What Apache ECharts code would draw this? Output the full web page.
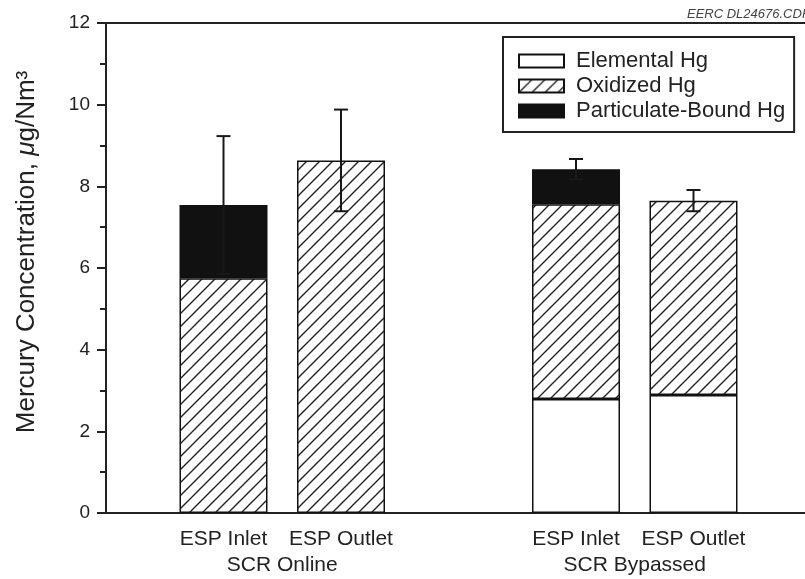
<!DOCTYPE html>
<html>
<head>
<meta charset="utf-8">
<script src="https://cdn.jsdelivr.net/npm/echarts@6/dist/echarts.min.js"></script>
<style>
html,body{margin:0;padding:0;background:#fff;}
#chart{width:805px;height:579px;}
</style>
</head>
<body>
<div id="chart"></div>
<script>
// ---- data ----
const categories = ['', 'ESP Inlet', 'ESP Outlet', '', 'ESP Inlet', 'ESP Outlet', ''];
const groups = ['SCR Online', 'SCR Bypassed'];
const groupPositions = [1.5, 4.5];
const seriesNames = ['Elemental Hg', 'Oxidized Hg', 'Particulate-Bound Hg'];
const elemental   = ['-', '-',  '-',  '-', 2.79, 2.89, '-'];
const oxidized    = ['-', 5.75, 8.63, '-', 4.77, 4.76, '-'];
const particulate = ['-', 1.79, '-',  '-', 0.86, '-',  '-'];
const errorLow    = ['-', 5.85, 7.39, '-', 8.17, 7.39, '-'];
const errorHigh   = ['-', 9.23, 9.88, '-', 8.67, 7.91, '-'];
const yMin = 0, yMax = 12, yInterval = 2;
const yAxisTitle = 'Mercury Concentration, {i|μ}g/Nm³';
const cornerNote = 'EERC DL24676.CDR';

// ---- hatch pattern ----
function makeHatch(size, lw, color) {
  const c = document.createElement('canvas');
  c.width = size; c.height = size;
  const ctx = c.getContext('2d');
  ctx.fillStyle = '#fff';
  ctx.fillRect(0, 0, size, size);
  ctx.strokeStyle = color;
  ctx.lineWidth = lw;
  ctx.beginPath();
  ctx.moveTo(-2, size + 2); ctx.lineTo(size + 2, -2);
  ctx.moveTo(-2, 2); ctx.lineTo(2, -2);
  ctx.moveTo(size - 2, size + 2); ctx.lineTo(size + 2, size - 2);
  ctx.stroke();
  return c;
}
const hatch = makeHatch(13, 1.4, '#222');

const FONT = '"Liberation Sans", Arial, sans-serif';
const chart = echarts.init(document.getElementById('chart'), null, {renderer: 'canvas'});

const errData = [];
for (let i = 0; i < categories.length; i++) {
  if (errorLow[i] !== '-') errData.push([i, errorLow[i], errorHigh[i]]);
}

const barCommon = {
  type: 'bar', stack: 'total', barWidth: 88, xAxisIndex: 0,
  emphasis: {disabled: true}
};

chart.setOption({
  animation: false,
  backgroundColor: '#fff',
  textStyle: {fontFamily: FONT},
  grid: {left: 106, top: 23, bottom: 66, width: 705, show: true, borderColor: '#222', borderWidth: 2,
         backgroundColor: 'transparent', containLabel: false, outerBoundsMode: 'none'},
  legend: {
    orient: 'vertical', left: 503, top: 37,
    padding: [13, 9, 10, 15],
    borderColor: '#222', borderWidth: 2,
    itemWidth: 45, itemHeight: 13, itemGap: 3,
    icon: 'rect',
    textStyle: {fontSize: 22, color: '#222', fontFamily: FONT, lineHeight: 21, padding: [0, 0, 0, 7]},
    data: seriesNames
  },
  xAxis: [{
    type: 'category', data: categories, boundaryGap: false,
    axisLine: {show: true, lineStyle: {color: '#222', width: 2}},
    axisTick: {show: false},
    axisLabel: {interval: 0, fontSize: 21, color: '#222', margin: 16, fontFamily: FONT},
    splitLine: {show: false}
  }, {
    type: 'value', min: 0, max: categories.length - 1, interval: 1.5,
    position: 'bottom',
    axisLine: {show: false}, axisTick: {show: false}, splitLine: {show: false},
    axisLabel: {
      fontSize: 21, color: '#222', margin: 42, fontFamily: FONT, showMinLabel: true, showMaxLabel: true,
      formatter: function (v) {
        const k = groupPositions.indexOf(v);
        return k >= 0 ? groups[k] : '';
      }
    }
  }],
  yAxis: {
    type: 'value', min: yMin, max: yMax, interval: yInterval,
    axisLine: {show: true, lineStyle: {color: '#222', width: 2}},
    axisTick: {show: true, length: 9, lineStyle: {color: '#222', width: 2}},
    minorTick: {show: true, splitNumber: 2, length: 6, lineStyle: {color: '#222', width: 2}},
    axisLabel: {fontSize: 19, color: '#222', margin: 16, fontFamily: FONT},
    splitLine: {show: false}
  },
  series: [
    Object.assign({}, barCommon, {
      name: seriesNames[0], data: elemental,
      itemStyle: {color: '#fff', borderColor: '#111', borderWidth: 1.5}
    }),
    Object.assign({}, barCommon, {
      name: seriesNames[1], data: oxidized,
      itemStyle: {color: {image: hatch, repeat: 'repeat'}, borderColor: '#111', borderWidth: 1.5}
    }),
    Object.assign({}, barCommon, {
      name: seriesNames[2], data: particulate,
      itemStyle: {color: '#111', borderColor: '#111', borderWidth: 1.5}
    }),
    {
      type: 'custom', name: 'error', xAxisIndex: 0, data: errData, z: 10,
      encode: {x: 0, y: [1, 2]},
      renderItem: function (params, api) {
        const x = api.value(0);
        const lo = api.coord([x, api.value(1)]);
        const hi = api.coord([x, api.value(2)]);
        const cap = 7;
        const st = {stroke: '#181818', lineWidth: 2};
        return {
          type: 'group',
          children: [
            {type: 'line', shape: {x1: lo[0], y1: lo[1], x2: hi[0], y2: hi[1]}, style: st},
            {type: 'line', shape: {x1: hi[0] - cap, y1: hi[1], x2: hi[0] + cap, y2: hi[1]}, style: st},
            {type: 'line', shape: {x1: lo[0] - cap, y1: lo[1], x2: lo[0] + cap, y2: lo[1]}, style: st}
          ]
        };
      }
    }
  ],
  graphic: [
    {
      type: 'text', x: 27, y: 252, rotation: Math.PI / 2,
      style: {
        text: yAxisTitle, fontSize: 26, fontFamily: FONT, fill: '#222',
        align: 'center', verticalAlign: 'middle',
        rich: {i: {fontStyle: 'italic', fontSize: 26, fontFamily: FONT, fill: '#222'}}
      }
    },
    {
      type: 'text', x: 687, y: 14,
      style: {text: cornerNote, fontSize: 13, fontStyle: 'italic', fontFamily: FONT, fill: '#444', verticalAlign: 'middle'}
    }
  ]
});
</script>
</body>
</html>
